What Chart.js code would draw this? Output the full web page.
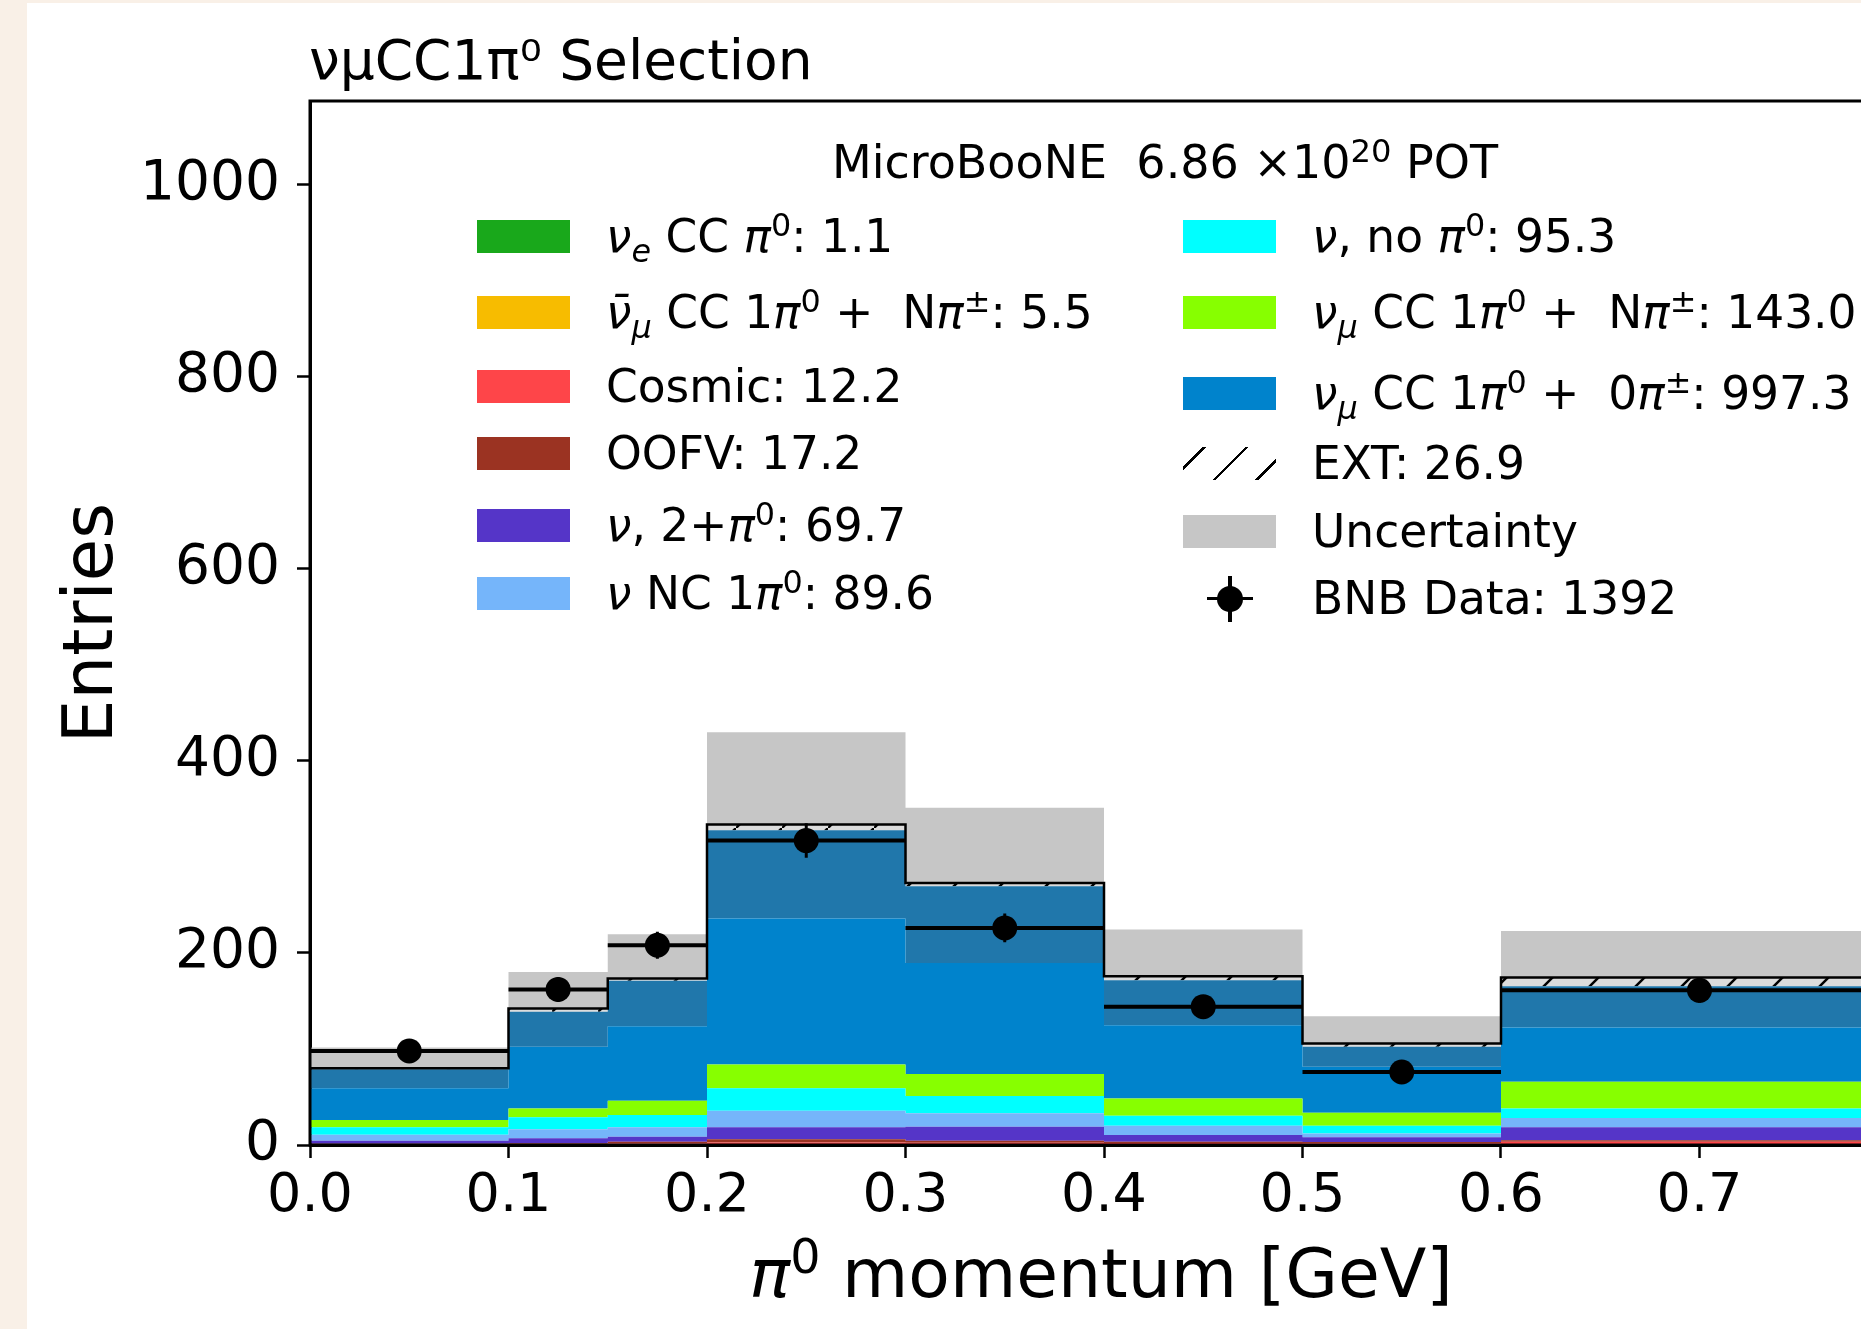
<!DOCTYPE html>
<html lang="en">
<head>
  <meta charset="UTF-8">
  <title>νμCC1π⁰ Selection</title>
  <style>
    html, body { margin: 0; padding: 0; width: 1861px; height: 1329px; overflow: hidden; background: #f9f0e7; }
    #fig { position: absolute; left: 27px; top: 3px; width: 1900px; height: 1400px; background: #fff; }
    #chart { position: absolute; left: 0; top: 0; }
    .txt { position: absolute; font-family: 'DejaVu Sans', sans-serif; color: #000; white-space: pre; line-height: 1; }
    .row { position: absolute; height: 60px; display: flex; align-items: center; font-family: 'DejaVu Sans', sans-serif; font-size: 45.5px; color: #000; white-space: pre; }
    .sw { width: 93px; height: 33px; margin-right: 36px; flex: none; position: relative; }
    sup { font-size: 0.7em; vertical-align: 0.5em; line-height: 0; }
    sub { font-size: 0.7em; vertical-align: -0.3em; line-height: 0; }
    i { font-style: italic; }
    .hatch { background: repeating-linear-gradient(135deg, transparent 0 14px, #000 14px 16.5px, transparent 16.5px 30px); }
    .mk-h { position: absolute; left: 24px; top: 15px; width: 46px; height: 3.5px; background: #000; }
    .mk-v { position: absolute; left: 45px; top: -6px; width: 3.5px; height: 46px; background: #000; }
    .mk-c { position: absolute; left: 34px; top: 4px; width: 26px; height: 26px; border-radius: 50%; background: #000; }
  </style>
</head>
<body>
  <div id="fig"></div>
  <canvas id="chart" width="1960" height="1329"></canvas>

  <div class="txt" style="left:309px; top:33px; font-size:55px;">νμCC1π⁰ Selection</div>
  <div class="txt" style="left:832px; top:139px; font-size:46px;">MicroBooNE  6.86 ×10<sup>20</sup> POT</div>
  <div class="txt" style="left:601px; width:1000px; top:1240px; font-size:68px; text-align:center;"><i>π</i><sup>0</sup> momentum [GeV]</div>

  <!-- legend, left column -->
  <div class="row" style="left:477px; top:206px;"><div class="sw" style="background:#19a81b"></div><span><i>ν</i><sub><i>e</i></sub> CC <i>π</i><sup>0</sup>: 1.1</span></div>
  <div class="row" style="left:477px; top:282px;"><div class="sw" style="background:#f7bc00"></div><span><i>ν̄</i><sub><i>μ</i></sub> CC 1<i>π</i><sup>0</sup> +  N<i>π</i><sup>±</sup>: 5.5</span></div>
  <div class="row" style="left:477px; top:356px;"><div class="sw" style="background:#fe4549"></div><span>Cosmic: 12.2</span></div>
  <div class="row" style="left:477px; top:423px;"><div class="sw" style="background:#9b3322"></div><span>OOFV: 17.2</span></div>
  <div class="row" style="left:477px; top:495px;"><div class="sw" style="background:#5535c8"></div><span><i>ν</i>, 2+<i>π</i><sup>0</sup>: 69.7</span></div>
  <div class="row" style="left:477px; top:563px;"><div class="sw" style="background:#75b5fa"></div><span><i>ν</i> NC 1<i>π</i><sup>0</sup>: 89.6</span></div>

  <!-- legend, right column -->
  <div class="row" style="left:1183px; top:206px;"><div class="sw" style="background:#00ffff"></div><span><i>ν</i>, no <i>π</i><sup>0</sup>: 95.3</span></div>
  <div class="row" style="left:1183px; top:282px;"><div class="sw" style="background:#87ff00"></div><span><i>ν</i><sub><i>μ</i></sub> CC 1<i>π</i><sup>0</sup> +  N<i>π</i><sup>±</sup>: 143.0</span></div>
  <div class="row" style="left:1183px; top:363px;"><div class="sw" style="background:#0083cc"></div><span><i>ν</i><sub><i>μ</i></sub> CC 1<i>π</i><sup>0</sup> +  0<i>π</i><sup>±</sup>: 997.3</span></div>
  <div class="row" style="left:1183px; top:433px;"><div class="sw hatch"></div><span>EXT: 26.9</span></div>
  <div class="row" style="left:1183px; top:501px;"><div class="sw" style="background:#c6c6c6"></div><span>Uncertainty</span></div>
  <div class="row" style="left:1183px; top:568px;"><div class="sw"><div class="mk-h"></div><div class="mk-v"></div><div class="mk-c"></div></div><span>BNB Data: 1392</span></div>

  <script src="https://cdn.jsdelivr.net/npm/chart.js"></script>
  <script>
    // bin edges of the pi0 momentum histogram [GeV]
    const binEdges = [0, 0.1, 0.15, 0.2, 0.3, 0.4, 0.5, 0.6, 0.8];

    // stacked MC components, bottom to top (entries per bin)
    const nueCC      = [0.1, 0.1, 0.1, 0.2, 0.2, 0.1, 0.1, 0.2];
    const numubarCC  = [0.3, 0.4, 0.5, 0.9, 0.8, 0.7, 0.6, 0.9];
    const cosmic     = [0.4, 0.5, 0.9, 1.6, 1.4, 1.3, 1.0, 2.4];
    const oofv       = [0.4, 0.7, 2.0, 3.3, 2.1, 1.4, 1.3, 1.5];
    const nu2pi0     = [3.3, 5.3, 5.2, 12.4, 14.5, 6.9, 5.0, 13.4];
    const nuNC1pi0   = [6.2, 9.3, 9.7, 17.3, 14.0, 9.6, 4.0, 9.6];
    const nuNoPi0    = [7.7, 12.5, 12.8, 23.3, 18.0, 10.5, 8.0, 10.1];
    const numuNpi    = [7.6, 9.3, 14.8, 24.9, 22.8, 18.0, 13.6, 27.7];
    const numu0piA   = [33.0, 64.2, 77.7, 151.8, 115.8, 76.3, 47.9, 56.6];
    const numu0piB   = [20.0, 36.4, 47.3, 92.0, 79.7, 46.8, 20.8, 42.9];
    const ext        = [1.0, 3.3, 2.3, 6.1, 3.5, 4.1, 3.4, 9.0];
    // uncertainty band above the total prediction
    const uncertainty = [21.6, 38.2, 46.1, 96.0, 78.3, 48.6, 28.4, 48.6];

    // BNB data and its errors
    const dataCounts = [98, 162, 208, 317, 226, 144, 76, 161];
    const dataErrors = [10, 13, 14, 18, 15, 12, 9, 13];

    const yTicks = [0, 200, 400, 600, 800, 1000];
    const xTicks = [0, 0.1, 0.2, 0.3, 0.4, 0.5, 0.6, 0.7, 0.8];

    function extHatch() {
      const c = document.createElement('canvas');
      c.width = 46; c.height = 46;
      const g = c.getContext('2d');
      g.fillStyle = '#dcdcdc';
      g.fillRect(0, 0, 46, 46);
      g.strokeStyle = '#000';
      g.lineWidth = 2.5;
      g.beginPath();
      g.moveTo(-4, 50); g.lineTo(50, -4);
      g.stroke();
      return g.createPattern(c, 'repeat');
    }

    const layers = [
      { vals: nueCC, color: '#19a81b' },
      { vals: numubarCC, color: '#f7bc00' },
      { vals: cosmic, color: '#fe4549' },
      { vals: oofv, color: '#9b3322' },
      { vals: nu2pi0, color: '#5535c8' },
      { vals: nuNC1pi0, color: '#75b5fa' },
      { vals: nuNoPi0, color: '#00ffff' },
      { vals: numuNpi, color: '#87ff00' },
      { vals: numu0piA, color: '#0083cc' },
      { vals: numu0piB, color: '#2077ab' },
      { vals: ext, color: extHatch() }
    ];

    function steps(vals) {
      return binEdges.map((x, i) => ({ x: x, y: vals[Math.min(i, vals.length - 1)] }));
    }

    let running = dataCounts.map(() => 0);
    const datasets = layers.map((l, k) => {
      running = running.map((r, i) => r + l.vals[i]);
      return {
        data: steps(running),
        stepped: true,
        fill: k === 0 ? 'origin' : '-1',
        backgroundColor: l.color,
        borderColor: 'rgba(0,0,0,0)',
        borderWidth: 0,
        pointRadius: 0,
        order: 10
      };
    });
    const totals = running;
    const totalIndex = datasets.length - 1;

    // grey uncertainty band
    datasets.push({
      data: steps(totals.map((t, i) => t + uncertainty[i])),
      stepped: true,
      fill: totalIndex,
      backgroundColor: '#c6c6c6',
      borderColor: 'rgba(0,0,0,0)',
      borderWidth: 0,
      pointRadius: 0,
      order: 10
    });

    // black outline of total prediction
    datasets.push({
      data: steps(totals),
      stepped: true,
      fill: false,
      borderColor: '#000',
      borderWidth: 2.5,
      pointRadius: 0,
      order: 3
    });

    // data error bars
    const hBars = [];
    const vBars = [];
    const points = [];
    dataCounts.forEach((d, i) => {
      const mid = (binEdges[i] + binEdges[i + 1]) / 2;
      hBars.push({ x: binEdges[i], y: d }, { x: binEdges[i + 1], y: d }, { x: binEdges[i + 1], y: null });
      vBars.push({ x: mid, y: d - dataErrors[i] }, { x: mid, y: d + dataErrors[i] }, { x: mid, y: null });
      points.push({ x: mid, y: d });
    });
    datasets.push({ data: hBars, fill: false, borderColor: '#000', borderWidth: 4, pointRadius: 0, spanGaps: false, order: 2 });
    datasets.push({ data: vBars, fill: false, borderColor: '#000', borderWidth: 3, pointRadius: 0, spanGaps: false, order: 2 });
    datasets.push({ data: points, showLine: false, fill: false, pointRadius: 12.5, pointBackgroundColor: '#000', pointBorderWidth: 0, order: 1 });

    const frame = {
      id: 'frame',
      afterDatasetsDraw(chart) {
        const a = chart.chartArea;
        const c = chart.ctx;
        c.save();
        c.strokeStyle = '#000';
        c.lineWidth = 3;
        c.strokeRect(a.left, a.top, a.right - a.left, a.bottom - a.top);
        c.restore();
      }
    };

    const font = 'DejaVu Sans';

    new Chart(document.getElementById('chart'), {
      type: 'line',
      data: { datasets: datasets },
      options: {
        responsive: false,
        animation: false,
        events: [],
        layout: { padding: { left: 0, top: 101, right: 62, bottom: 0 } },
        plugins: {
          legend: { display: false },
          tooltip: { enabled: false },
          title: { display: false }
        },
        scales: {
          x: {
            type: 'linear',
            min: 0,
            max: 0.8,
            afterFit: s => { s.height = 184; },
            afterBuildTicks: s => { s.ticks = xTicks.map(v => ({ value: v })); },
            border: { display: true, color: '#000', width: 3 },
            grid: { drawOnChartArea: false, drawTicks: true, tickLength: 13, tickWidth: 2.5, tickColor: '#000' },
            ticks: {
              autoSkip: false,
              maxRotation: 0,
              padding: 7,
              color: '#000',
              font: { family: font, size: 54 },
              // the 0.8 label sits past the cropped right edge of the figure
              callback: v => (v < 0.75 ? v.toFixed(1) : '')
            },
            title: { display: false }
          },
          y: {
            min: 0,
            max: 1087,
            afterFit: s => { s.width = 310; },
            afterBuildTicks: s => { s.ticks = yTicks.map(v => ({ value: v })); },
            border: { display: true, color: '#000', width: 3 },
            grid: { drawOnChartArea: false, drawTicks: true, tickLength: 13, tickWidth: 2.5, tickColor: '#000' },
            ticks: {
              padding: 17,
              color: '#000',
              font: { family: font, size: 55 },
              callback: v => String(v)
            },
            title: {
              display: true,
              text: 'Entries',
              color: '#000',
              font: { family: font, size: 69 },
              padding: { top: 53, bottom: 0 }
            }
          }
        }
      },
      plugins: [frame]
    });
  </script>
</body>
</html>
